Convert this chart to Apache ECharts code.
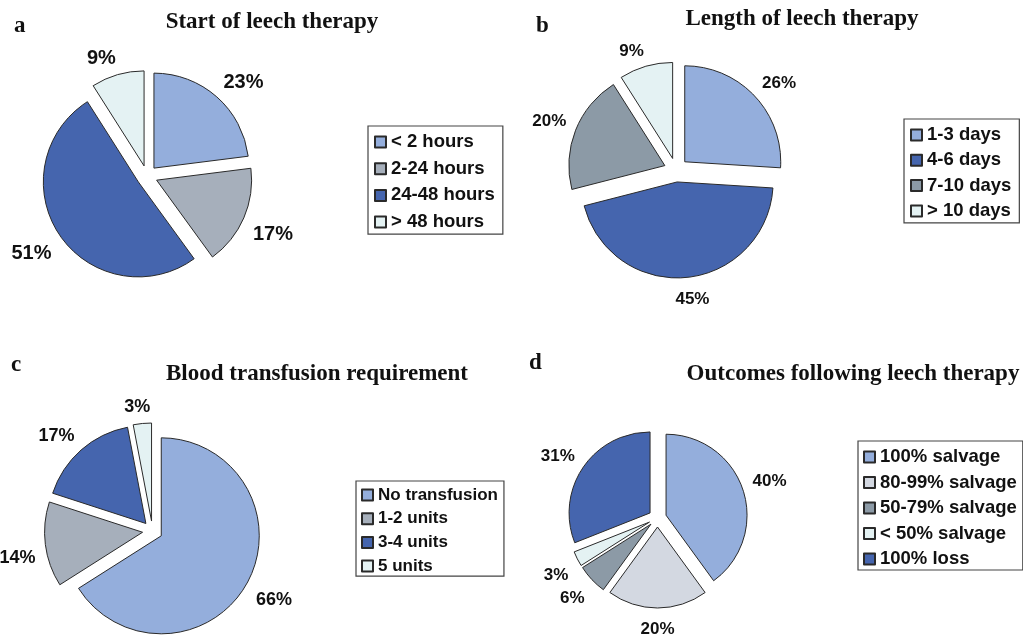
<!DOCTYPE html>
<html><head><meta charset="utf-8">
<script src="https://cdn.jsdelivr.net/npm/echarts@6/dist/echarts.min.js"></script>
<style>html,body{margin:0;padding:0;background:#fff}#c{width:1023px;height:636px}</style>
</head><body><div id="c"></div>
<script>
// ---------- data ----------
const panelLetters = ['a', 'b', 'c', 'd'];
const panelTitles = ['Start of leech therapy', 'Length of leech therapy', 'Blood transfusion requirement', 'Outcomes following leech therapy'];

const startCategories = ['< 2 hours', '2-24 hours', '24-48 hours', '> 48 hours'];
const startValues = [23, 17, 51, 9];

const lengthCategories = ['1-3 days', '4-6 days', '7-10 days', '> 10 days'];
const lengthValues = [26, 45, 20, 9];

const transfusionCategories = ['No transfusion', '1-2 units', '3-4 units', '5 units'];
const transfusionValues = [66, 14, 17, 3];

const outcomeCategories = ['100% salvage', '80-99% salvage', '50-79% salvage', '< 50% salvage', '100% loss'];
const outcomeValues = [40, 20, 6, 3, 31];

// ---------- styles ----------
const LB = '#94AEDC', GR = '#A6AFBB', DB = '#4565AE', PL = '#E4F2F3', DG = '#8C9AA6', LG = '#D3D8E1';
const panels = [
  { names: startCategories, values: startValues, colors: [LB, GR, DB, PL],
    center: [147, 176], radius: 95, offset: 10.5, labelSize: 20,
    title: [272, 11], letter: [14, 15],
    legend: { left: 368, top: 126, fontSize: 18.5, lineHeight: 20, gap: 6.7, padding: [6, 8, 2, 6] } },
  { names: lengthCategories, values: lengthValues, colors: [LB, DB, DG, PL],
    center: [676, 170], radius: 96, offset: 12, labelSize: 17,
    title: [802, 8], letter: [536, 15],
    legend: { left: 904, top: 119, fontSize: 18.5, lineHeight: 20, gap: 5.3, padding: [6, 8, 2, 6] } },
  { names: transfusionCategories, values: transfusionValues, colors: [LB, GR, DB, PL],
    center: [152.5, 531], radius: 98, offset: 10, labelSize: 18,
    title: [317, 363], letter: [11, 354],
    legend: { left: 356, top: 481, fontSize: 17, lineHeight: 18, gap: 5.7, padding: [5, 6, 1, 5] } },
  { names: outcomeCategories, values: outcomeValues, colors: [LB, LG, DG, PL, DB],
    center: [657.5, 518], radius: 81, offset: 9, labelSize: 17,
    title: [853, 363], letter: [529, 352],
    legend: { left: 858, top: 441, fontSize: 18.5, lineHeight: 20, gap: 5.5, padding: [6, 6, 1, 5] } }
];

const GAP = 10;   // label distance from the slice edge
const BIAS = 3;   // small downward nudge of all labels
const titles = [], legends = [], series = [];
panels.forEach((p, i) => {
  titles.push({ text: panelTitles[i], left: p.title[0], top: p.title[1], textAlign: 'center', padding: 0,
    textStyle: { fontFamily: 'Liberation Serif, Times New Roman, serif', fontWeight: 'bold', fontSize: 23, color: '#111' } });
  titles.push({ text: panelLetters[i], left: p.letter[0], top: p.letter[1], padding: 0,
    textStyle: { fontFamily: 'Liberation Serif, Times New Roman, serif', fontWeight: 'bold', fontSize: 23, color: '#111' } });
  const L = p.legend;
  legends.push({ data: p.names, orient: 'vertical', left: L.left, top: L.top, padding: L.padding,
    itemGap: L.gap, itemWidth: 11, itemHeight: 11, icon: 'rect', selectedMode: false,
    borderColor: '#444', borderWidth: 1.2,
    textStyle: { fontFamily: 'Liberation Sans, Arial, sans-serif', fontWeight: 'bold', fontSize: L.fontSize, lineHeight: L.lineHeight, color: '#111' } });

  const total = p.values.reduce((a, b) => a + b, 0);
  const h = p.labelSize;
  let acc = 0;
  const data = p.names.map((n, k) => {
    const mid = (acc + p.values[k] / 2) / total * 2 * Math.PI;
    acc += p.values[k];
    const dx = Math.sin(mid), dy = -Math.cos(mid);
    const ady = Math.max(Math.abs(dy), 0.05);
    const w = p.labelSize * (0.556 * String(p.values[k]).length + 0.889);
    const blend = Math.min(1, Math.abs(dx) / 0.3);
    // label box sits just outside the edge, its near corner GAP px out along the ray
    const len = GAP + Math.min(100, h / (2 * ady)) + BIAS / (dy < 0 ? -ady : ady);
    const len2 = (GAP - len) * Math.abs(dx) - (w / 2) * (1 - blend);
    return {
      name: n, value: p.values[k], selected: true,
      itemStyle: { color: p.colors[k] },
      labelLine: { length: len, length2: len2 }
    };
  });
  series.push({
    type: 'pie', center: p.center, radius: p.radius, startAngle: 90, clockwise: true,
    selectedMode: 'multiple', selectedOffset: p.offset, avoidLabelOverlap: false,
    itemStyle: { borderColor: '#2a2a2a', borderWidth: 1 },
    label: { show: true, position: 'outside', formatter: '{c}%', fontFamily: 'Liberation Sans, Arial, sans-serif',
      fontWeight: 'bold', fontSize: p.labelSize, lineHeight: p.labelSize, color: '#111', distanceToLabelLine: 0 },
    labelLine: { show: false },
    labelLayout: { hideOverlap: false },
    emphasis: { disabled: true },
    data
  });
});

const chart = echarts.init(document.getElementById('c'));
chart.setOption({ animation: false, backgroundColor: '#fff', title: titles, legend: legends, series });
</script></body></html>
